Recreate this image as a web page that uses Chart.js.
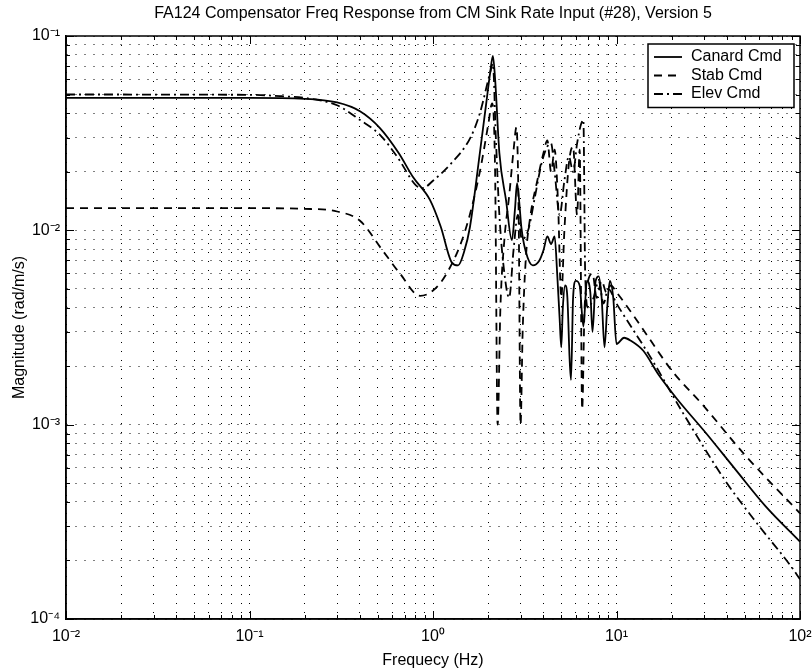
<!DOCTYPE html>
<html>
<head>
<meta charset="utf-8">
<script src="https://cdn.jsdelivr.net/npm/chart.js@4.4.1/dist/chart.umd.min.js"></script>
<style>
  html, body { margin: 0; padding: 0; background: #fff; }
</style>
</head>
<body>
<canvas id="myChart" width="812" height="671"></canvas>
<script>
// values (Hz, rad/m/s)
const canardFreq = [0.01, 0.05, 0.1, 0.2, 0.3, 0.4, 0.514, 0.65, 0.778, 0.964, 1.1, 1.27, 1.37, 1.48, 1.59, 1.8, 1.95, 2.05, 2.12, 2.18, 2.3, 2.5, 2.69, 2.8, 2.87, 2.95, 3.03, 3.2, 3.5, 3.8, 4.0, 4.2, 4.4, 4.6, 4.75, 4.9, 5.0, 5.1, 5.25, 5.4, 5.55, 5.65, 5.8, 6.0, 6.3, 6.6, 6.9, 7.2, 7.4, 7.7, 8.0, 8.3, 8.6, 8.9, 9.2, 9.6, 10, 11, 12, 14, 17, 21.6, 30, 45, 65, 100];
const canardMag = [0.048, 0.048, 0.048, 0.0475, 0.0455, 0.041, 0.0336, 0.025, 0.0188, 0.0143, 0.0105, 0.0068, 0.0066, 0.0078, 0.0104, 0.025, 0.045, 0.065, 0.079, 0.06, 0.025, 0.0143, 0.0089, 0.013, 0.0175, 0.014, 0.0104, 0.0078, 0.0066, 0.007, 0.0079, 0.0093, 0.0085, 0.0093, 0.006, 0.0035, 0.0025, 0.004, 0.0052, 0.0045, 0.0022, 0.0017, 0.0045, 0.0055, 0.0052, 0.0032, 0.0055, 0.0048, 0.003, 0.0055, 0.0058, 0.0045, 0.0025, 0.004, 0.0055, 0.0045, 0.0026, 0.0028, 0.0027, 0.0024, 0.0018, 0.00134, 0.00093, 0.00058, 0.00038, 0.00025];

const stabFreq = [0.01, 0.1, 0.2, 0.3, 0.4, 0.53, 0.66, 0.85, 1.0, 1.2, 1.5, 1.8, 2.0, 2.1, 2.18, 2.25, 2.33, 2.45, 2.6, 2.75, 2.85, 2.93, 3.0, 3.08, 3.2, 3.4, 3.7, 4.0, 4.2, 4.4, 4.6, 4.8, 5.0, 5.2, 5.5, 5.8, 6.1, 6.3, 6.5, 6.7, 7.0, 7.4, 7.8, 8.3, 8.8, 9.3, 10, 12, 15, 20, 29.6, 50, 100];
const stabMag = [0.013, 0.013, 0.0129, 0.0125, 0.0112, 0.0079, 0.006, 0.0046, 0.0049, 0.0061, 0.01, 0.02, 0.035, 0.045, 0.02, 0.001, 0.004, 0.009, 0.015, 0.026, 0.034, 0.012, 0.001, 0.003, 0.007, 0.012, 0.018, 0.025, 0.029, 0.02, 0.026, 0.014, 0.0045, 0.01, 0.022, 0.027, 0.012, 0.026, 0.0012, 0.004, 0.0055, 0.006, 0.0045, 0.0055, 0.0048, 0.0052, 0.0048, 0.0038, 0.0028, 0.0019, 0.00126, 0.0007, 0.00035];

const elevFreq = [0.01, 0.1, 0.15, 0.2, 0.3, 0.4, 0.514, 0.64, 0.81, 0.88, 1.0, 1.25, 1.6, 1.8, 2.05, 2.12, 2.2, 2.3, 2.45, 2.6, 2.75, 2.9, 3.05, 3.3, 3.6, 3.9, 4.2, 4.4, 4.6, 4.9, 5.2, 5.5, 5.8, 6.1, 6.4, 6.6, 6.75, 7.0, 7.5, 8.0, 8.5, 9.0, 10, 12, 15, 23, 40, 60, 90, 100];
const elevMag = [0.05, 0.0498, 0.049, 0.048, 0.044, 0.037, 0.031, 0.0238, 0.017, 0.0165, 0.018, 0.022, 0.03, 0.04, 0.065, 0.072, 0.03, 0.012, 0.006, 0.0045, 0.008, 0.012, 0.009, 0.01, 0.015, 0.022, 0.027, 0.028, 0.02, 0.012, 0.018, 0.024, 0.02, 0.028, 0.035, 0.037, 0.006, 0.004, 0.0045, 0.0055, 0.0042, 0.005, 0.0042, 0.0032, 0.0023, 0.00115, 0.0005, 0.0003, 0.000185, 0.00016];

const seriesNames = ['Canard Cmd', 'Stab Cmd', 'Elev Cmd'];
const xDecades = [-2, -1, 0, 1, 2];
const yDecades = [-4, -3, -2, -1];

const FONT = '"Liberation Sans", Arial, Helvetica, sans-serif';
const sup = { '-': '\u207B', '0': '\u2070', '1': '\u00B9', '2': '\u00B2', '3': '\u00B3', '4': '\u2074' };

function logTicks(decades) {
  const t = [];
  decades.forEach((e, i) => {
    const steps = i === decades.length - 1 ? [1] : [1, 2, 3, 4, 5, 6, 7, 8, 9];
    steps.forEach(m => t.push(m * Math.pow(10, e)));
  });
  return t;
}

function powLabel(v) {
  const e = Math.round(Math.log10(v));
  if (Math.abs(Math.log10(v) - e) > 1e-6) return '';
  return '10' + String(e).split('').map(c => sup[c]).join('');
}

function toPoints(f, m) {
  return f.map((x, i) => ({ x: x, y: m[i] }));
}

const framePlugin = {
  id: 'frame',
  afterDraw(chart) {
    const ctx = chart.ctx;
    const a = chart.chartArea;
    const xs = chart.scales.x, ys = chart.scales.y;
    ctx.save();
    ctx.setLineDash([]);
    ctx.strokeStyle = '#000';

    // inward tick marks on all four sides
    ctx.lineWidth = 1;
    ctx.beginPath();
    xs.ticks.forEach(t => {
      const px = Math.round(xs.getPixelForValue(t.value)) + 0.5;
      const len = t.label ? 8 : 4;
      ctx.moveTo(px, a.bottom); ctx.lineTo(px, a.bottom - len);
      ctx.moveTo(px, a.top); ctx.lineTo(px, a.top + len);
    });
    ys.ticks.forEach(t => {
      const py = Math.round(ys.getPixelForValue(t.value)) + 0.5;
      const len = t.label ? 8 : 4;
      ctx.moveTo(a.left, py); ctx.lineTo(a.left + len, py);
      ctx.moveTo(a.right, py); ctx.lineTo(a.right - len, py);
    });
    ctx.stroke();

    // title
    ctx.fillStyle = '#000';
    ctx.font = '16px ' + FONT;
    ctx.textAlign = 'center';
    ctx.textBaseline = 'middle';
    ctx.fillText('FA124 Compensator Freq Response from CM Sink Rate Input (#28), Version 5', (a.left + a.right) / 2, 14);

    // legend box, top right inside the axes
    const bx = a.right - 152, by = a.top + 8, bw = 146, rowH = 18.5;
    const bh = rowH * seriesNames.length + 8;
    ctx.fillStyle = '#fff';
    ctx.fillRect(bx, by, bw, bh);
    ctx.lineWidth = 1.5;
    ctx.strokeRect(bx, by, bw, bh);
    chart.data.datasets.forEach((ds, i) => {
      const cy = by + 13 + i * rowH;
      ctx.setLineDash(ds.borderDash || []);
      ctx.lineWidth = ds.borderWidth;
      ctx.beginPath();
      ctx.moveTo(bx + 6, cy); ctx.lineTo(bx + 34, cy);
      ctx.stroke();
      ctx.setLineDash([]);
      ctx.fillStyle = '#000';
      ctx.textAlign = 'left';
      ctx.fillText(ds.label, bx + 43, cy);
    });

    // axes box
    ctx.setLineDash([]);
    ctx.lineWidth = 1.5;
    ctx.strokeRect(a.left, a.top, a.right - a.left, a.bottom - a.top);
    ctx.restore();
  }
};

const ctx = document.getElementById('myChart').getContext('2d');

window.myChart = new Chart(ctx, {
  type: 'line',
  data: {
    datasets: [{
      label: seriesNames[0],
      data: toPoints(canardFreq, canardMag),
      borderColor: '#000',
      borderWidth: 1.8,
      borderDash: []
    }, {
      label: seriesNames[1],
      data: toPoints(stabFreq, stabMag),
      borderColor: '#000',
      borderWidth: 1.8,
      borderDash: [8, 6]
    }, {
      label: seriesNames[2],
      data: toPoints(elevFreq, elevMag),
      borderColor: '#000',
      borderWidth: 1.8,
      borderDash: [9, 4, 2, 4]
    }]
  },
  options: {
    responsive: false,
    animation: false,
    elements: {
      point: { radius: 0 },
      line: { cubicInterpolationMode: 'monotone', fill: false }
    },
    layout: { padding: { top: 36, right: 12, left: 0, bottom: 0 } },
    plugins: {
      legend: { display: false },
      title: { display: false },
      tooltip: { enabled: false }
    },
    scales: {
      x: {
        type: 'logarithmic',
        min: 0.01,
        max: 100,
        afterBuildTicks: s => { s.ticks = logTicks(xDecades).map(v => ({ value: v })); },
        afterFit: s => { s.height = 52; s.paddingLeft = 0; s.paddingRight = 0; },
        grid: { color: '#000', lineWidth: 1, drawTicks: false },
        border: { display: true, color: '#000', width: 1.5, dash: [1, 8] },
        ticks: {
          autoSkip: false,
          maxRotation: 0,
          padding: 8,
          color: '#000',
          font: { family: FONT, size: 16 },
          callback: v => powLabel(v)
        },
        title: {
          display: true,
          text: 'Frequecy (Hz)',
          color: '#000',
          font: { family: FONT, size: 16 },
          padding: { top: 0, bottom: 1 }
        }
      },
      y: {
        type: 'logarithmic',
        min: 0.0001,
        max: 0.1,
        afterBuildTicks: s => { s.ticks = logTicks(yDecades).map(v => ({ value: v })); },
        afterFit: s => { s.width = 66; },
        grid: { color: '#000', lineWidth: 1, drawTicks: false },
        border: { display: true, color: '#000', width: 1.5, dash: [1, 8] },
        ticks: {
          autoSkip: false,
          padding: 6,
          color: '#000',
          font: { family: FONT, size: 16 },
          callback: v => powLabel(v)
        },
        title: {
          display: true,
          text: 'Magnitude (rad/m/s)',
          color: '#000',
          font: { family: FONT, size: 16 },
          padding: { top: 10, bottom: 0 }
        }
      }
    }
  },
  plugins: [framePlugin]
});
</script>
</body>
</html>
